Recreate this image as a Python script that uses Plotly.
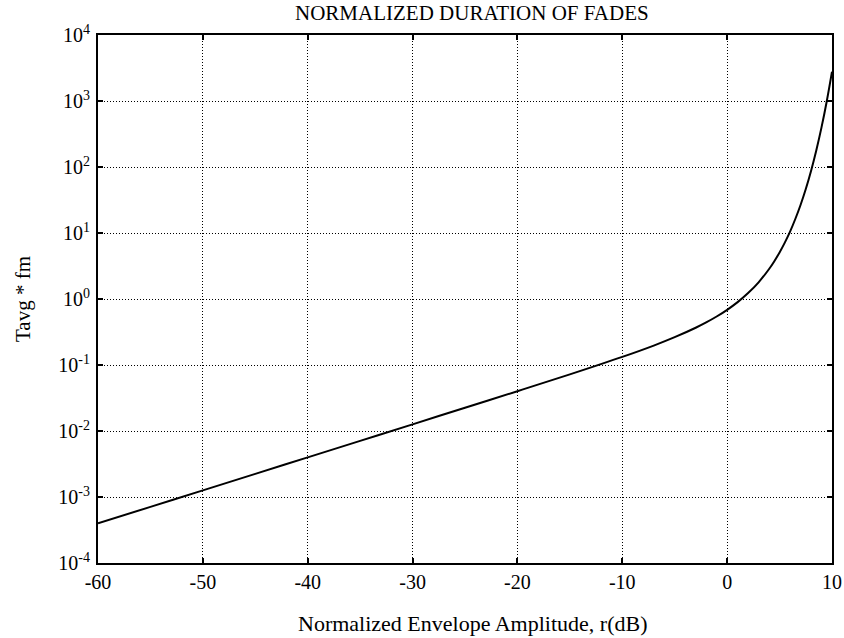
import plotly.graph_objects as go

# Envelope amplitude r (dB) and normalized average fade duration
r_db = [-60, -55, -50, -45, -40, -35, -30, -25, -20, -15, -10, -7, -5, -3, -2, -1, 0,
        1, 2, 3, 4, 4.5, 5, 5.5, 6, 6.5, 7, 7.5, 8, 8.5, 9, 9.5, 10]
tavg_fm = [3.99e-4, 7.09e-4, 1.26e-3, 2.24e-3, 3.99e-3, 7.09e-3, 1.262e-2, 2.25e-2,
           4.01e-2, 7.21e-2, 0.1327, 0.197, 0.264, 0.367, 0.442, 0.543, 0.686,
           0.897, 1.23, 1.79, 2.85, 3.74, 5.08, 7.15, 10.5, 16.3, 26.6, 46.4, 87.2,
           178, 398, 992, 2779]

x_ticks = [-60, -50, -40, -30, -20, -10, 0, 10]
y_tickvals = [1e-4, 1e-3, 1e-2, 1e-1, 1e0, 1e1, 1e2, 1e3, 1e4]
y_ticktext = ["10<sup>-4</sup>", "10<sup>-3</sup>", "10<sup>-2</sup>", "10<sup>-1</sup>",
              "10<sup>0</sup>", "10<sup>1</sup>", "10<sup>2</sup>", "10<sup>3</sup>",
              "10<sup>4</sup>"]

title_text = "NORMALIZED DURATION OF FADES"
x_title = "Normalized Envelope Amplitude, r(dB)"
y_title = "Tavg * fm"

font_family = "Liberation Serif, Times New Roman, serif"

fig = go.Figure()
fig.add_trace(go.Scatter(x=r_db, y=tavg_fm, mode="lines",
                         line=dict(color="black", width=2, shape="spline"),
                         showlegend=False))

fig.update_layout(
    width=844, height=638,
    margin=dict(l=98, r=12, t=35, b=75, autoexpand=False),
    paper_bgcolor="white", plot_bgcolor="white",
    font=dict(family=font_family, color="black", size=20),
)

common = dict(
    ticks="inside", ticklen=5, tickcolor="black", tickwidth=2,
    showline=True, linecolor="black", linewidth=2, mirror="ticks",
    showgrid=True, gridcolor="black", gridwidth=1, griddash="1px,2px",
    zeroline=False, tickfont=dict(size=20, family=font_family, color="black"),
    automargin=False,
)
fig.update_xaxes(range=[-60, 10], tickvals=x_ticks,
                 ticktext=[str(v) for v in x_ticks], **common)
fig.update_yaxes(type="log", range=[-4, 4], tickvals=y_tickvals,
                 ticktext=y_ticktext, ticklabelstandoff=2, **common)

fig.add_annotation(text=title_text, xref="paper", yref="paper", x=0.51, y=1,
                   yshift=22, xanchor="center", yanchor="middle", showarrow=False,
                   font=dict(size=21, family=font_family, color="black"))
fig.add_annotation(text=x_title, xref="paper", yref="paper", x=0.51, y=0,
                   yshift=-60, xanchor="center", yanchor="middle", showarrow=False,
                   font=dict(size=22, family=font_family, color="black"))
fig.add_annotation(text=y_title, xref="paper", yref="paper", x=0, y=0.5,
                   xshift=-75, xanchor="center", yanchor="middle", textangle=-90,
                   showarrow=False,
                   font=dict(size=21, family=font_family, color="black"))

fig.write_html("out.html")
